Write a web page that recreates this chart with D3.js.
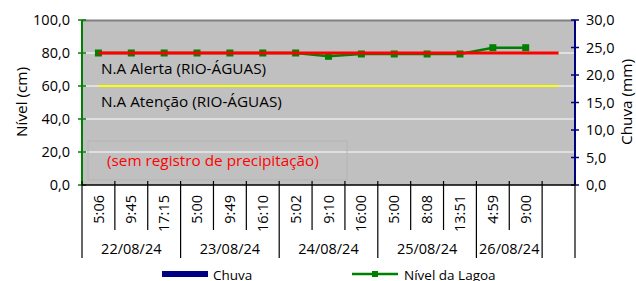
<!DOCTYPE html>
<html lang="pt">
<head>
<meta charset="utf-8">
<script src="https://d3js.org/d3.v7.min.js"></script>
<style>
  body { margin: 0; background: #fff; }
  text { font-family: "Open Sans", sans-serif; fill: #000; }
</style>
</head>
<body>
<script>
// dados
var horas = ["5:06", "9:45", "17:15", "5:00", "9:49", "16:10", "5:02", "9:10", "16:00", "5:00", "8:08", "13:51", "4:59", "9:00", ""];
var datas = ["22/08/24", "23/08/24", "24/08/24", "25/08/24", "26/08/24", ""];
var porData = [3, 3, 3, 3, 2, 1];
var nivel = [80, 80, 80, 80, 80, 80, 80, 78, 79.4, 79.4, 79.4, 79.4, 83.2, 83.2];
var chuva = [0, 0, 0, 0, 0, 0, 0, 0, 0, 0, 0, 0, 0, 0];
var alerta = 80;
var atencao = 60;
var ticksEsq = [0, 20, 40, 60, 80, 100];
var ticksDir = [0, 5, 10, 15, 20, 25, 30];

var width = 636, height = 281;
var pLeft = 82, pRight = 575, pTop = 20, pBottom = 185;
var fs = "14.5px";

var svg = d3.select("body").append("svg")
  .attr("width", width)
  .attr("height", height);

var x = d3.scaleBand().domain(d3.range(horas.length)).range([pLeft, pRight]);
var y = d3.scaleLinear().domain([0, 100]).range([pBottom, pTop]);
var y2 = d3.scaleLinear().domain([0, 30]).range([pBottom, pTop]);
var cx = function(i) { return x(i) + x.bandwidth() / 2; };
var fmt = function(v) { return d3.format(".1f")(v).replace(".", ","); };

// fundo
svg.append("rect")
  .attr("x", pLeft).attr("y", pTop)
  .attr("width", pRight - pLeft).attr("height", pBottom - pTop)
  .attr("fill", "#c0c0c0");
svg.append("line")
  .attr("x1", pLeft).attr("x2", pRight).attr("y1", pTop + 0.5).attr("y2", pTop + 0.5)
  .attr("stroke", "#808080").attr("stroke-width", 2);

// grade
svg.selectAll(".grid").data(ticksEsq.filter(function(d) { return d > 0 && d < 100; }))
  .enter().append("line")
  .attr("x1", pLeft).attr("x2", pRight)
  .attr("y1", function(d) { return y(d); }).attr("y2", function(d) { return y(d); })
  .attr("stroke", "#ffffff").attr("stroke-width", 1);

// caixa do texto de precipitação
svg.append("rect")
  .attr("x", 88).attr("y", 141).attr("width", 259).attr("height", 39)
  .attr("fill", "none").attr("stroke", "#b4b4b4");

// barras de chuva (todas zero)
svg.selectAll(".bar").data(chuva).enter().append("rect")
  .attr("x", function(d, i) { return x(i) + 8; })
  .attr("width", x.bandwidth() - 16)
  .attr("y", function(d) { return y2(d); })
  .attr("height", function(d) { return pBottom - y2(d); })
  .attr("fill", "#000080");

// nivel da lagoa
svg.append("path")
  .datum(nivel)
  .attr("fill", "none")
  .attr("stroke", "#008000")
  .attr("stroke-width", 2.5)
  .attr("d", d3.line().x(function(d, i) { return cx(i); }).y(function(d) { return y(d); }));
svg.selectAll(".mk").data(nivel).enter().append("rect")
  .attr("x", function(d, i) { return cx(i) - 3.5; })
  .attr("y", function(d) { return y(d) - 3.5; })
  .attr("width", 7).attr("height", 7)
  .attr("fill", "#008000");

// niveis de referência
var ref = function(v, cor, w) {
  svg.append("line")
    .attr("x1", cx(0)).attr("x2", cx(horas.length - 1))
    .attr("y1", y(v)).attr("y2", y(v))
    .attr("stroke", cor).attr("stroke-width", w);
};
ref(atencao, "#ffff00", 2);
ref(alerta, "#ff0000", 3);

svg.append("text").attr("x", 101).attr("y", 74).style("font-size", "15.3px")
  .text("N.A Alerta (RIO-ÁGUAS)");
svg.append("text").attr("x", 101).attr("y", 107).style("font-size", "15.3px")
  .text("N.A Atenção (RIO-ÁGUAS)");
svg.append("text").attr("x", 107).attr("y", 166).style("font-size", "15.3px")
  .style("fill", "#ff0000")
  .text("(sem registro de precipitação)");

// eixo esquerdo
svg.append("line").attr("x1", pLeft).attr("x2", pLeft).attr("y1", pTop).attr("y2", pBottom)
  .attr("stroke", "#008000").attr("stroke-width", 2);
svg.selectAll(".te").data(ticksEsq).enter().append("line")
  .attr("x1", pLeft - 4).attr("x2", pLeft + 4)
  .attr("y1", function(d) { return y(d); }).attr("y2", function(d) { return y(d); })
  .attr("stroke", "#008000").attr("stroke-width", 1.5);
svg.selectAll(".le").data(ticksEsq).enter().append("text")
  .attr("x", pLeft - 12).attr("y", function(d) { return y(d); })
  .attr("dy", "0.35em").attr("text-anchor", "end").style("font-size", fs)
  .text(fmt);

// eixo direito
svg.append("line").attr("x1", pRight).attr("x2", pRight).attr("y1", pTop).attr("y2", pBottom)
  .attr("stroke", "#000080").attr("stroke-width", 2);
svg.selectAll(".td").data(ticksDir).enter().append("line")
  .attr("x1", pRight - 4).attr("x2", pRight + 4)
  .attr("y1", function(d) { return y2(d); }).attr("y2", function(d) { return y2(d); })
  .attr("stroke", "#000080").attr("stroke-width", 1.5);
svg.selectAll(".ld").data(ticksDir).enter().append("text")
  .attr("x", pRight + 11).attr("y", function(d) { return y2(d); })
  .attr("dy", "0.35em").style("font-size", fs)
  .text(fmt);

// eixo x
svg.append("line").attr("x1", pLeft).attr("x2", pRight).attr("y1", pBottom).attr("y2", pBottom)
  .attr("stroke", "#000").attr("stroke-width", 1.5);
svg.selectAll(".tx").data(d3.range(horas.length + 1)).enter().append("line")
  .attr("x1", function(i) { return i < horas.length ? x(i) : pRight; })
  .attr("x2", function(i) { return i < horas.length ? x(i) : pRight; })
  .attr("y1", pBottom - 4).attr("y2", 230)
  .attr("stroke", "#000").attr("stroke-width", 1.2);
svg.selectAll(".lx").data(horas).enter().append("text")
  .attr("transform", function(d, i) { return "translate(" + cx(i) + ",195) rotate(-90)"; })
  .attr("dy", "0.35em").attr("text-anchor", "end").style("font-size", fs)
  .text(function(d) { return d; });

var acc = 0;
datas.forEach(function(d, k) {
  var i0 = acc, i1 = acc + porData[k];
  var xa = x(i0), xb = i1 < horas.length ? x(i1) : pRight;
  svg.append("line").attr("x1", xa).attr("x2", xa).attr("y1", 230).attr("y2", 258)
    .attr("stroke", "#000").attr("stroke-width", 1.2);
  if (i1 >= horas.length) {
    svg.append("line").attr("x1", xb).attr("x2", xb).attr("y1", 230).attr("y2", 258)
      .attr("stroke", "#000").attr("stroke-width", 1.2);
  }
  svg.append("text").attr("x", (xa + xb) / 2).attr("y", 249)
    .attr("dy", "0.35em").attr("text-anchor", "middle").style("font-size", fs)
    .text(d);
  acc = i1;
});

// títulos dos eixos
svg.append("text").attr("transform", "translate(22,102) rotate(-90)")
  .attr("dy", "0.35em").attr("text-anchor", "middle").style("font-size", "15.3px")
  .text("Nível (cm)");
svg.append("text").attr("transform", "translate(627,102) rotate(-90)")
  .attr("dy", "0.35em").attr("text-anchor", "middle").style("font-size", "15.3px")
  .text("Chuva (mm)");

// legenda
svg.append("rect").attr("x", 162).attr("y", 271).attr("width", 46).attr("height", 6)
  .attr("fill", "#000080");
svg.append("text").attr("x", 213).attr("y", 275).attr("dy", "0.35em")
  .style("font-size", "13.5px").text("Chuva");
svg.append("line").attr("x1", 352).attr("x2", 398).attr("y1", 274).attr("y2", 274)
  .attr("stroke", "#008000").attr("stroke-width", 2.5);
svg.append("rect").attr("x", 372).attr("y", 271).attr("width", 6).attr("height", 6)
  .attr("fill", "#008000");
svg.append("text").attr("x", 404).attr("y", 275).attr("dy", "0.35em")
  .style("font-size", "13.5px").text("Nível da Lagoa");
</script>
</body>
</html>
